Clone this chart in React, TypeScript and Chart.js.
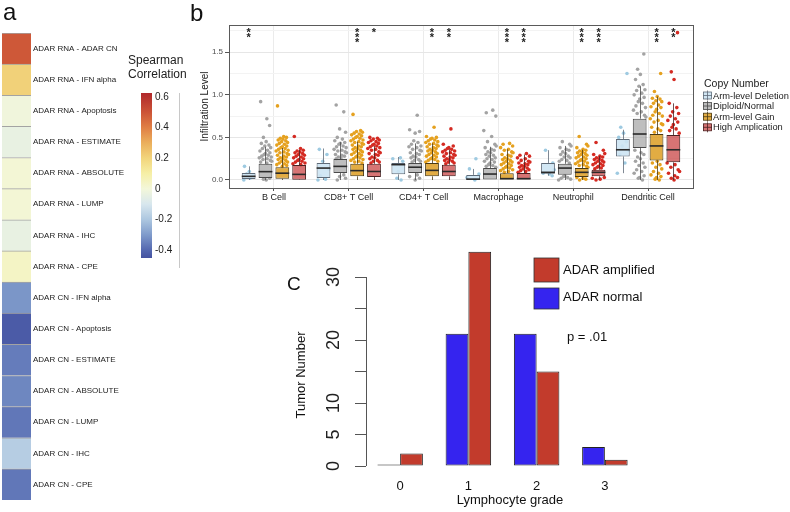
import React, { useEffect, useRef } from 'react';
import { Chart, registerables } from 'chart.js';

Chart.register(...registerables);

const FONT = "'Liberation Sans', Arial, Helvetica, sans-serif";
Chart.defaults.font.family = FONT;
Chart.defaults.color = '#222';

// ---------------- Panel a: heatmap ----------------
const HEATMAP_LABELS = [
  'ADAR RNA - ADAR CN',
  'ADAR RNA - IFN alpha',
  'ADAR RNA - Apoptosis',
  'ADAR RNA - ESTIMATE',
  'ADAR RNA - ABSOLUTE',
  'ADAR RNA - LUMP',
  'ADAR RNA - IHC',
  'ADAR RNA - CPE',
  'ADAR CN - IFN alpha',
  'ADAR CN - Apoptosis',
  'ADAR CN - ESTIMATE',
  'ADAR CN - ABSOLUTE',
  'ADAR CN - LUMP',
  'ADAR CN - IHC',
  'ADAR CN - CPE',
];
const HEATMAP_VALUES = [0.49, 0.21, -0.01, -0.04, 0.01, 0.01, -0.04, 0.04, -0.31, -0.43, -0.36, -0.34, -0.37, -0.18, -0.37];
const COLORBAR_TICKS = [-0.4, -0.2, 0, 0.2, 0.4, 0.6];
const COLORBAR_MIN = -0.452;
const COLORBAR_MAX = 0.626;
const COLOR_STOPS: [number, string][] = [
  [-0.452, '#4452a0'],
  [-0.4, '#5468b0'],
  [-0.3, '#7f9bcb'],
  [-0.2, '#adc7e0'],
  [-0.1, '#d8e7ee'],
  [0.0, '#f3f7da'],
  [0.1, '#f6efa6'],
  [0.2, '#f2d57c'],
  [0.3, '#ebaf5c'],
  [0.4, '#e07f45'],
  [0.5, '#cc5437'],
  [0.626, '#b0282b'],
];

// ---------------- Panel b: box plots ----------------
const CELL_TYPES = ['B Cell', 'CD8+ T Cell', 'CD4+ T Cell', 'Macrophage', 'Neutrophil', 'Dendritic Cell'];
const COPY_GROUPS = ['Arm-level Deletion', 'Diploid/Normal', 'Arm-level Gain', 'High Amplication'];
const Y_TICKS_B = [0, 0.25, 0.5, 0.75, 1, 1.25, 1.5, 1.75];
const Y_LABELED_B = [0, 0.5, 1, 1.5];
// [lower whisker, Q1, median, Q3, upper whisker] per cell type
const DELETION_STATS = [
  [0.0, 0.012, 0.043, 0.082, 0.16],
  [0.0, 0.023, 0.14, 0.2, 0.37],
  [0.0, 0.066, 0.18, 0.2, 0.27],
  [0.0, 0.004, 0.01, 0.06, 0.13],
  [0.05, 0.074, 0.09, 0.2, 0.35],
  [0.08, 0.277, 0.355, 0.48, 0.59],
];
const DIPLOID_STATS = [
  [0.0, 0.023, 0.098, 0.19, 0.39],
  [0.0, 0.082, 0.16, 0.246, 0.445],
  [0.0, 0.082, 0.15, 0.2, 0.43],
  [0.0, 0.0, 0.07, 0.14, 0.39],
  [0.0, 0.063, 0.14, 0.19, 0.4],
  [0.0, 0.375, 0.54, 0.72, 1.1],
];
const GAIN_STATS = [
  [0.0, 0.016, 0.08, 0.15, 0.375],
  [0.0, 0.043, 0.11, 0.19, 0.45],
  [0.0, 0.043, 0.113, 0.2, 0.43],
  [0.0, 0.0, 0.016, 0.08, 0.36],
  [0.0, 0.035, 0.09, 0.14, 0.355],
  [0.0, 0.23, 0.4, 0.54, 0.98],
];
const AMP_STATS = [
  [0.0, 0.004, 0.066, 0.175, 0.355],
  [0.0, 0.035, 0.1, 0.19, 0.4],
  [0.0, 0.043, 0.1, 0.18, 0.36],
  [0.0, 0.0, 0.016, 0.082, 0.3],
  [0.0, 0.043, 0.09, 0.12, 0.28],
  [0.0, 0.207, 0.355, 0.527, 0.9],
];
// visible individual samples (outside / around the boxes)
const DELETION_POINTS = [
  [0.0, 0.02, 0.05, 0.07, 0.1, 0.16],
  [0.36, 0.3, 0.22, 0.13, 0.05, 0.01, 0.0],
  [0.26, 0.25, 0.22, 0.1, 0.02, 0.0],
  [0.25, 0.13, 0.07, 0.03, 0.0],
  [0.35, 0.2, 0.12, 0.08, 0.07, 0.05],
  [1.25, 0.62, 0.55, 0.5, 0.45, 0.4, 0.35, 0.3, 0.2, 0.08],
];
const DIPLOID_POINTS = [
  [0.92, 0.72, 0.64, 0.5, 0.45, 0.43, 0.41, 0.4, 0.38, 0.37, 0.35, 0.34, 0.32, 0.31, 0.3, 0.29, 0.28, 0.27, 0.26, 0.25, 0.24, 0.23, 0.22, 0.21, 0.2, 0.02, 0.01, 0.0],
  [0.88, 0.8, 0.6, 0.56, 0.5, 0.48, 0.46, 0.44, 0.43, 0.42, 0.4, 0.39, 0.38, 0.36, 0.35, 0.34, 0.33, 0.32, 0.3, 0.29, 0.28, 0.27, 0.26, 0.25, 0.06, 0.04, 0.02, 0.0],
  [0.76, 0.59, 0.57, 0.55, 0.46, 0.44, 0.42, 0.4, 0.39, 0.38, 0.36, 0.35, 0.34, 0.32, 0.31, 0.3, 0.28, 0.27, 0.26, 0.24, 0.23, 0.22, 0.21, 0.06, 0.04, 0.02, 0.0],
  [0.82, 0.79, 0.75, 0.58, 0.51, 0.45, 0.42, 0.4, 0.38, 0.36, 0.35, 0.33, 0.32, 0.3, 0.29, 0.28, 0.26, 0.25, 0.24, 0.22, 0.21, 0.2, 0.18, 0.17, 0.16, 0.15],
  [0.45, 0.42, 0.4, 0.38, 0.36, 0.35, 0.33, 0.31, 0.3, 0.28, 0.27, 0.26, 0.24, 0.23, 0.22, 0.2, 0.05, 0.04, 0.03, 0.02, 0.01, 0.0],
  [1.48, 1.3, 1.24, 1.18, 1.12, 1.1, 1.06, 1.05, 1.02, 1.0, 0.97, 0.95, 0.92, 0.9, 0.87, 0.85, 0.82, 0.8, 0.78, 0.76, 0.74, 0.35, 0.32, 0.3, 0.27, 0.25, 0.22, 0.2, 0.17, 0.15, 0.12, 0.1, 0.08, 0.05, 0.03, 0.02, 0.0],
];
const GAIN_POINTS = [
  [0.87, 0.51, 0.5, 0.49, 0.48, 0.47, 0.46, 0.45, 0.44, 0.43, 0.42, 0.41, 0.4, 0.39, 0.38, 0.37, 0.36, 0.35, 0.34, 0.33, 0.32, 0.31, 0.3, 0.29, 0.28, 0.27, 0.26, 0.25, 0.24, 0.23, 0.22, 0.21, 0.2, 0.19, 0.18, 0.17, 0.16],
  [0.77, 0.58, 0.57, 0.56, 0.55, 0.54, 0.53, 0.52, 0.51, 0.5, 0.49, 0.48, 0.47, 0.46, 0.45, 0.44, 0.43, 0.42, 0.41, 0.4, 0.39, 0.38, 0.37, 0.36, 0.35, 0.34, 0.33, 0.32, 0.31, 0.3, 0.29, 0.28, 0.27, 0.26, 0.25, 0.24, 0.23, 0.22, 0.21, 0.2],
  [0.62, 0.51, 0.5, 0.49, 0.48, 0.47, 0.46, 0.45, 0.44, 0.43, 0.42, 0.41, 0.4, 0.39, 0.38, 0.37, 0.36, 0.35, 0.34, 0.33, 0.32, 0.31, 0.3, 0.29, 0.28, 0.27, 0.26, 0.25, 0.24, 0.23, 0.22, 0.21],
  [0.43, 0.42, 0.4, 0.38, 0.36, 0.35, 0.33, 0.32, 0.3, 0.29, 0.28, 0.26, 0.25, 0.24, 0.23, 0.22, 0.21, 0.2, 0.19, 0.18, 0.17, 0.16, 0.15, 0.14, 0.13, 0.12, 0.11, 0.1, 0.09],
  [0.51, 0.42, 0.4, 0.38, 0.36, 0.35, 0.34, 0.33, 0.32, 0.31, 0.3, 0.29, 0.28, 0.27, 0.26, 0.25, 0.24, 0.23, 0.22, 0.21, 0.2, 0.19, 0.18, 0.17, 0.16, 0.15, 0.03, 0.02, 0.01, 0.0],
  [1.25, 1.04, 0.98, 0.96, 0.95, 0.93, 0.92, 0.9, 0.88, 0.86, 0.85, 0.83, 0.8, 0.78, 0.76, 0.75, 0.72, 0.7, 0.68, 0.66, 0.65, 0.62, 0.6, 0.58, 0.56, 0.22, 0.2, 0.18, 0.15, 0.13, 0.1, 0.08, 0.06, 0.04, 0.03, 0.01, 0.0],
];
const AMP_POINTS = [
  [0.51, 0.37, 0.35, 0.34, 0.33, 0.32, 0.31, 0.3, 0.29, 0.28, 0.27, 0.26, 0.25, 0.24, 0.23, 0.22, 0.21, 0.2, 0.19, 0.18],
  [0.5, 0.49, 0.48, 0.47, 0.46, 0.45, 0.44, 0.43, 0.42, 0.41, 0.4, 0.39, 0.38, 0.37, 0.36, 0.35, 0.33, 0.32, 0.31, 0.3, 0.29, 0.27, 0.26, 0.25, 0.23, 0.22, 0.21, 0.2],
  [0.6, 0.42, 0.4, 0.38, 0.37, 0.36, 0.35, 0.34, 0.33, 0.32, 0.31, 0.3, 0.29, 0.28, 0.27, 0.26, 0.25, 0.24, 0.23, 0.22, 0.21, 0.2, 0.19],
  [0.31, 0.29, 0.28, 0.26, 0.25, 0.23, 0.22, 0.21, 0.2, 0.19, 0.18, 0.17, 0.16, 0.15, 0.14, 0.13, 0.12, 0.11, 0.1, 0.09],
  [0.44, 0.35, 0.31, 0.3, 0.28, 0.27, 0.26, 0.25, 0.24, 0.23, 0.22, 0.21, 0.2, 0.19, 0.18, 0.17, 0.16, 0.15, 0.14, 0.13, 0.03, 0.02, 0.01, 0.0],
  [1.73, 1.27, 1.18, 0.9, 0.85, 0.8, 0.78, 0.75, 0.72, 0.7, 0.68, 0.65, 0.62, 0.6, 0.58, 0.55, 0.2, 0.18, 0.15, 0.12, 0.1, 0.08, 0.05, 0.03, 0.02, 0.0],
];
// significance stars per cell type, per copy-number group
const STAR_COUNTS = [
  [2, 0, 0, 0],
  [0, 0, 3, 1],
  [0, 0, 2, 2],
  [0, 0, 3, 3],
  [0, 0, 3, 3],
  [0, 0, 3, 2],
];

// ---------------- Panel c: bar chart ----------------
const GRADES = ['0', '1', '2', '3'];
const ADAR_NORMAL = [0, 21, 21, 3];
const ADAR_AMPLIFIED = [2, 34, 15, 1];
const C_Y_TICKS = [0, 5, 10, 15, 20, 25, 30];
const C_Y_TICK_LABELS = ['0', '5', '10', '', '20', '', '30'];

// ---------------- styles ----------------
const BOX_FILL = ['rgba(205,228,243,0.9)', 'rgba(165,165,165,0.72)', 'rgba(221,158,34,0.85)', 'rgba(200,62,62,0.72)'];
const BOX_LINE = ['#5f6b78', '#4a4a4a', '#4a3a14', '#4a2222'];
const POINT_COLOR = ['#9ecae1', '#a3a3a3', '#e5a11f', '#d42a22'];
const JITTER = [-0.35, 0.1, 0.3, -0.15, 0.05, -0.3, 0.25, -0.05, 0.38, -0.22, 0.15, -0.4, 0.32, 0.0, -0.1, 0.2, -0.27, 0.42, -0.45, 0.12, -0.18, 0.35, 0.45];

function hexToRgb(h: string) {
  const n = parseInt(h.slice(1), 16);
  return [(n >> 16) & 255, (n >> 8) & 255, n & 255];
}
function colorFor(v: number) {
  const s = COLOR_STOPS;
  if (v <= s[0][0]) return s[0][1];
  for (let i = 1; i < s.length; i++) {
    if (v <= s[i][0]) {
      const t = (v - s[i - 1][0]) / (s[i][0] - s[i - 1][0]);
      const a = hexToRgb(s[i - 1][1]);
      const b = hexToRgb(s[i][1]);
      const c = a.map((x, k) => Math.round(x + (b[k] - x) * t));
      return `rgb(${c[0]},${c[1]},${c[2]})`;
    }
  }
  return s[s.length - 1][1];
}

export default function App() {
  const refA = useRef<HTMLCanvasElement>(null);
  const refBar = useRef<HTMLCanvasElement>(null);
  const refB = useRef<HTMLCanvasElement>(null);
  const refC = useRef<HTMLCanvasElement>(null);

  useEffect(() => {
    const charts: Chart[] = [];

    // ---- heatmap ----
    charts.push(
      new Chart(refA.current!, {
        type: 'bar',
        data: {
          labels: HEATMAP_LABELS,
          datasets: [
            {
              data: HEATMAP_VALUES.map(() => 1),
              backgroundColor: HEATMAP_VALUES.map(colorFor),
              borderColor: '#a3a3a3',
              borderWidth: { top: 1, left: 0, right: 0, bottom: 0 },
              borderSkipped: false,
              barPercentage: 1,
              categoryPercentage: 1,
            } as any,
          ],
        },
        options: {
          indexAxis: 'y',
          responsive: false,
          animation: false,
          layout: { padding: { left: 2, top: 33, bottom: 12, right: 0 } },
          plugins: { legend: { display: false }, tooltip: { enabled: false } },
          scales: {
            x: { display: false, min: 0, max: 1 },
            y: {
              position: 'right',
              grid: { display: false, drawTicks: false },
              border: { display: false },
              ticks: { autoSkip: false, font: { size: 8, family: FONT }, color: '#222', padding: 2 },
              afterFit: (s: any) => {
                s.width = 97;
              },
            } as any,
          },
        },
      })
    );

    // ---- colorbar ----
    const colorbarPlugin = {
      id: 'colorbar',
      beforeDatasetsDraw(chart: any) {
        const { ctx, chartArea } = chart;
        const y = chart.scales.y;
        const g = ctx.createLinearGradient(0, chartArea.bottom, 0, chartArea.top);
        COLOR_STOPS.forEach(([v, c]) => {
          const f = (v - COLORBAR_MIN) / (COLORBAR_MAX - COLORBAR_MIN);
          g.addColorStop(Math.max(0, Math.min(1, f)), c);
        });
        ctx.save();
        ctx.fillStyle = g;
        ctx.fillRect(chartArea.left, y.getPixelForValue(COLORBAR_MAX), chartArea.right - chartArea.left, y.getPixelForValue(COLORBAR_MIN) - y.getPixelForValue(COLORBAR_MAX));
        ctx.restore();
      },
      afterDraw(chart: any) {
        const { ctx } = chart;
        ctx.save();
        ctx.fillStyle = '#222';
        ctx.font = `12px ${FONT}`;
        ctx.textBaseline = 'middle';
        ctx.textAlign = 'left';
        ctx.fillText('Spearman', 8, 21);
        ctx.fillText('Correlation', 8, 35);
        ctx.strokeStyle = '#c8c8c8';
        ctx.lineWidth = 1;
        ctx.beginPath();
        ctx.moveTo(59.5, 53);
        ctx.lineTo(59.5, 228);
        ctx.stroke();
        ctx.restore();
      },
    };
    charts.push(
      new Chart(refBar.current!, {
        type: 'bar',
        data: { labels: [''], datasets: [] },
        options: {
          responsive: false,
          animation: false,
          layout: { padding: { left: 21, top: 53, bottom: 22, right: 0 } },
          plugins: { legend: { display: false }, tooltip: { enabled: false } },
          scales: {
            x: { display: false },
            y: {
              position: 'right',
              min: COLORBAR_MIN,
              max: COLORBAR_MAX,
              afterBuildTicks: (s: any) => {
                s.ticks = COLORBAR_TICKS.map((v) => ({ value: v }));
              },
              ticks: { font: { size: 10 }, color: '#222', padding: 3, callback: (v: any) => String(v) },
              grid: { display: false, drawTicks: false },
              border: { display: false },
              afterFit: (s: any) => {
                s.width = 38;
              },
            } as any,
          },
        },
        plugins: [colorbarPlugin],
      })
    );

    // ---- box plots ----
    const STATS = [DELETION_STATS, DIPLOID_STATS, GAIN_STATS, AMP_STATS];
    const POINTS = [DELETION_POINTS, DIPLOID_POINTS, GAIN_POINTS, AMP_POINTS];
    const boxPlugin = {
      id: 'boxparts',
      beforeDatasetsDraw(chart: any) {
        const { ctx } = chart;
        const y = chart.scales.y;
        ctx.save();
        for (let g = 0; g < 4; g++) {
          const meta = chart.getDatasetMeta(g);
          ctx.fillStyle = POINT_COLOR[g];
          POINTS[g].forEach((pts, i) => {
            const el = meta.data[i];
            pts.forEach((v, k) => {
              const px = el.x + JITTER[(k + i * 5) % JITTER.length] * el.width;
              ctx.beginPath();
              ctx.arc(px, y.getPixelForValue(v), 1.8, 0, Math.PI * 2);
              ctx.fill();
            });
          });
        }
        ctx.restore();
      },
      afterDatasetsDraw(chart: any) {
        const { ctx } = chart;
        const y = chart.scales.y;
        ctx.save();
        for (let g = 0; g < 4; g++) {
          const meta = chart.getDatasetMeta(g);
          STATS[g].forEach((s, i) => {
            const el = meta.data[i];
            const x = Math.round(el.x) + 0.5;
            ctx.strokeStyle = BOX_LINE[g];
            ctx.lineWidth = 0.8;
            ctx.beginPath();
            ctx.moveTo(x, y.getPixelForValue(s[4]));
            ctx.lineTo(x, y.getPixelForValue(s[3]));
            ctx.moveTo(x, y.getPixelForValue(s[1]));
            ctx.lineTo(x, y.getPixelForValue(s[0]));
            ctx.stroke();
            ctx.strokeStyle = '#2a2a2a';
            ctx.lineWidth = 1.6;
            ctx.beginPath();
            const my = y.getPixelForValue(s[2]);
            ctx.moveTo(el.x - el.width / 2, my);
            ctx.lineTo(el.x + el.width / 2, my);
            ctx.stroke();
          });
        }
        ctx.restore();
      },
      afterDraw(chart: any) {
        const { ctx, chartArea } = chart;
        ctx.save();
        // panel border
        ctx.strokeStyle = '#5a5a5a';
        ctx.lineWidth = 1;
        ctx.strokeRect(Math.round(chartArea.left) + 0.5, Math.round(chartArea.top) + 0.5, Math.round(chartArea.right - chartArea.left), Math.round(chartArea.bottom - chartArea.top));
        // stars
        ctx.fillStyle = '#222';
        ctx.font = `bold 11px ${FONT}`;
        ctx.textAlign = 'center';
        ctx.textBaseline = 'middle';
        const y = chart.scales.y;
        const top = y.getPixelForValue(1.758);
        STAR_COUNTS.forEach((row, i) => {
          row.forEach((n, g) => {
            const el = chart.getDatasetMeta(g).data[i];
            for (let k = 0; k < n; k++) ctx.fillText('*', el.x, top + k * 5 + 3);
          });
        });
        // legend
        const lx = 518;
        ctx.textAlign = 'left';
        ctx.font = `10.5px ${FONT}`;
        ctx.fillStyle = '#222';
        ctx.fillText('Copy Number', 519, 84);
        const ys = [95.5, 106, 116.7, 127.3];
        ctx.font = `9.3px ${FONT}`;
        COPY_GROUPS.forEach((name, g) => {
          const cy = ys[g];
          ctx.fillStyle = BOX_FILL[g];
          ctx.fillRect(lx, cy - 3.5, 9, 7);
          ctx.strokeStyle = BOX_LINE[g];
          ctx.lineWidth = 0.8;
          ctx.strokeRect(lx + 0.5, cy - 3.5, 8, 7);
          ctx.beginPath();
          ctx.moveTo(lx + 4.5, cy - 5);
          ctx.lineTo(lx + 4.5, cy + 5);
          ctx.moveTo(lx, cy);
          ctx.lineTo(lx + 9, cy);
          ctx.stroke();
          ctx.fillStyle = '#222';
          ctx.fillText(name, 528, cy + 0.5);
        });
        ctx.restore();
      },
    };
    charts.push(
      new Chart(refB.current!, {
        type: 'bar',
        data: {
          datasets: STATS.map((stats, g) => ({
            label: COPY_GROUPS[g],
            data: stats.map((s, i) => ({ x: i, y: [s[1], s[3]] })),
            backgroundColor: BOX_FILL[g],
            borderColor: BOX_LINE[g],
            borderWidth: 1,
            borderSkipped: false,
            categoryPercentage: 0.9,
            barPercentage: 0.82,
          })) as any,
        },
        options: {
          responsive: false,
          animation: false,
          layout: { padding: { left: 14, top: 25, right: 97, bottom: 0 } },
          plugins: { legend: { display: false }, tooltip: { enabled: false } },
          scales: {
            x: {
              type: 'linear',
              min: -0.6,
              max: 5.6,
              offset: false,
              afterBuildTicks: (s: any) => {
                s.ticks = CELL_TYPES.map((_, i) => ({ value: i }));
              },
              ticks: { callback: (v: any) => CELL_TYPES[v], font: { size: 9 }, color: '#1a1a1a', padding: 1, autoSkip: false, maxRotation: 0 },
              grid: { color: '#ebebeb', tickColor: '#555', tickLength: 3, offset: false },
              border: { display: false },
              afterFit: (s: any) => {
                s.height = 17;
              },
            } as any,
            y: {
              min: -0.094,
              max: 1.82,
              afterBuildTicks: (s: any) => {
                s.ticks = Y_TICKS_B.map((v) => ({ value: v }));
              },
              ticks: {
                callback: (v: any) => (Y_LABELED_B.includes(v) ? Number(v).toFixed(1) : ''),
                font: { size: 8 },
                color: '#4d4d4d',
                padding: 2,
              },
              grid: {
                color: (c: any) => (c.tick && Y_LABELED_B.includes(c.tick.value) ? '#e6e6e6' : '#f3f3f3'),
                tickColor: (c: any) => (c.tick && Y_LABELED_B.includes(c.tick.value) ? '#555' : 'rgba(0,0,0,0)'),
                tickLength: 4,
              },
              border: { display: false },
              title: { display: true, text: 'Infiltration Level', font: { size: 10 }, color: '#222', padding: 0 },
              afterFit: (s: any) => {
                s.width = 30;
              },
            } as any,
          },
        },
        plugins: [boxPlugin],
      })
    );

    // ---- panel c ----
    const cPlugin = {
      id: 'cextras',
      afterDraw(chart: any) {
        const { ctx, chartArea } = chart;
        const y = chart.scales.y;
        ctx.save();
        ctx.strokeStyle = '#555';
        ctx.lineWidth = 1;
        const ax = Math.round(chartArea.left) + 0.5;
        ctx.beginPath();
        ctx.moveTo(ax, y.getPixelForValue(C_Y_TICKS[0]));
        ctx.lineTo(ax, y.getPixelForValue(C_Y_TICKS[C_Y_TICKS.length - 1]));
        ctx.stroke();
        ctx.fillStyle = '#222';
        ctx.font = `18px ${FONT}`;
        ctx.textAlign = 'center';
        ctx.textBaseline = 'middle';
        C_Y_TICKS.forEach((v, i) => {
          const t = C_Y_TICK_LABELS[i];
          if (!t) return;
          ctx.save();
          ctx.translate(74, y.getPixelForValue(v));
          ctx.rotate(-Math.PI / 2);
          ctx.fillText(t, 0, 0);
          ctx.restore();
        });
        // axis titles
        ctx.fillStyle = '#111';
        ctx.font = `13px ${FONT}`;
        ctx.save();
        ctx.translate(41, 140);
        ctx.rotate(-Math.PI / 2);
        ctx.fillText('Tumor Number', 0, 0);
        ctx.restore();
        ctx.fillText('Lymphocyte grade', 250, 265);
        // legend
        ctx.textAlign = 'left';
        ctx.font = `13px ${FONT}`;
        ctx.lineWidth = 0.8;
        ctx.strokeStyle = '#333';
        ctx.fillStyle = '#c23b2c';
        ctx.fillRect(274, 23, 25, 24);
        ctx.strokeRect(274, 23, 25, 24);
        ctx.fillStyle = '#3524ef';
        ctx.fillRect(274, 53, 25, 21);
        ctx.strokeRect(274, 53, 25, 21);
        ctx.fillStyle = '#111';
        ctx.fillText('ADAR amplified', 303, 35);
        ctx.fillText('ADAR normal', 303, 62);
        ctx.fillText('p = .01', 307, 102);
        ctx.restore();
      },
    };
    charts.push(
      new Chart(refC.current!, {
        type: 'bar',
        data: {
          labels: GRADES,
          datasets: [
            {
              label: 'ADAR normal',
              data: ADAR_NORMAL,
              backgroundColor: '#3524ef',
              borderColor: '#222',
              borderWidth: 1,
              borderSkipped: false,
              minBarLength: 1.5,
              categoryPercentage: 2 / 3,
              barPercentage: 1,
            } as any,
            {
              label: 'ADAR amplified',
              data: ADAR_AMPLIFIED,
              backgroundColor: '#c23b2c',
              borderColor: '#222',
              borderWidth: 1,
              borderSkipped: false,
              minBarLength: 1.5,
              categoryPercentage: 2 / 3,
              barPercentage: 1,
            } as any,
          ],
        },
        options: {
          responsive: false,
          animation: false,
          layout: { padding: { left: 36, top: 10.5, right: 41, bottom: 0 } },
          plugins: { legend: { display: false }, tooltip: { enabled: false } },
          scales: {
            x: {
              grid: { display: false },
              border: { display: false },
              ticks: { font: { size: 13 }, color: '#111', padding: 5 },
              afterFit: (s: any) => {
                s.height = 46;
              },
            } as any,
            y: {
              min: 0,
              max: 35,
              afterBuildTicks: (s: any) => {
                s.ticks = C_Y_TICKS.map((v) => ({ value: v }));
              },
              ticks: { display: false },
              grid: { drawOnChartArea: false, drawTicks: true, tickLength: 11, color: '#555' },
              border: { display: false },
              afterFit: (s: any) => {
                s.width = 70;
              },
            } as any,
          },
        },
        plugins: [cPlugin],
      })
    );

    return () => charts.forEach((c) => c.destroy());
  }, []);

  const abs = (l: number, t: number, w: number, h: number): React.CSSProperties => ({ position: 'absolute', left: l, top: t, width: w, height: h });

  return (
    <div style={{ position: 'absolute', left: 0, top: 0, width: 790, height: 512, background: '#fff', overflow: 'hidden', fontFamily: FONT }}>
      <canvas ref={refA} width={128} height={512} style={abs(0, 0, 128, 512)} />
      <canvas ref={refBar} width={70} height={240} style={abs(120, 40, 70, 240)} />
      <canvas ref={refB} width={605} height={205} style={abs(185, 0, 605, 205)} />
      <canvas ref={refC} width={420} height={277} style={abs(260, 235, 420, 277)} />
      <div style={{ position: 'absolute', left: 3, top: 0, fontSize: 24, lineHeight: '24px', color: '#111' }}>a</div>
      <div style={{ position: 'absolute', left: 190, top: 1, fontSize: 24, lineHeight: '24px', color: '#111' }}>b</div>
      <div style={{ position: 'absolute', left: 287, top: 274, fontSize: 19, lineHeight: '19px', color: '#111' }}>C</div>
    </div>
  );
}
